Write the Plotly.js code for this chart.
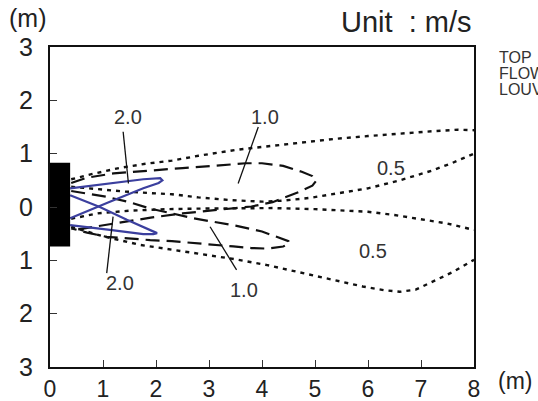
<!DOCTYPE html>
<html>
<head>
<meta charset="utf-8">
<script src="https://cdn.plot.ly/plotly-3.0.1.min.js"></script>
<style>html,body{margin:0;padding:0;background:#fff;}#chart{width:538px;height:401px;}</style>
</head>
<body>
<div id="chart"></div>
<script>
// ---- data (m) ----
const xTicks = [0,1,2,3,4,5,6,7,8];
const yTickVals = [-3,-2,-1,0,1,2,3];
const yTickText = ['3','2','1','0','1','2','3'];

// louver (source) outline
const srcX = [0,0.38,0.38,0,0];
const srcY = [0.83,0.83,-0.74,-0.74,0.83];

// 0.5 m/s contours (dotted)
const c05UpperTopX = [0.4,0.8,1.3,1.8,2.3,2.8,3.5,4.2,4.7,5.4,6.0,6.6,7.2,7.7,8.0];
const c05UpperTopY = [0.52,0.62,0.73,0.81,0.87,0.96,1.07,1.15,1.21,1.28,1.33,1.38,1.42,1.45,1.44];
const c05UpperBotX = [0.4,0.9,1.4,1.9,2.3,2.8,3.4,4.0,4.4,4.9,5.4,6.0,6.6,7.2,7.6,8.0];
const c05UpperBotY = [0.38,0.33,0.29,0.26,0.24,0.18,0.13,0.10,0.12,0.17,0.25,0.35,0.50,0.68,0.83,1.0];
const c05LowerTopX = [0.4,0.9,1.5,2.2,2.8,3.5,4.2,5.0,5.6,6.0,6.5,6.9,7.5,8.0];
const c05LowerTopY = [-0.22,-0.12,-0.07,-0.04,-0.03,-0.02,-0.02,-0.04,-0.07,-0.09,-0.15,-0.21,-0.31,-0.43];
const c05LowerBotX = [0.4,1.0,1.7,2.3,2.9,3.5,4.1,4.7,5.35,5.9,6.3,6.6,6.9,7.2,7.6,8.0];
const c05LowerBotY = [-0.37,-0.55,-0.71,-0.80,-0.90,-0.98,-1.09,-1.22,-1.37,-1.49,-1.56,-1.59,-1.55,-1.41,-1.22,-0.99];

// 1.0 m/s contours (dashed)
const c10UpperX = [0.4,0.7,1.2,1.8,2.5,3.2,3.7,4.0,4.4,4.75,4.95,5.03,4.95,4.72,4.45,4.2,3.8,3.4,3.0,2.5,1.9,1.4,1.0,0.6,0.4];
const c10UpperY = [0.45,0.55,0.63,0.68,0.73,0.78,0.82,0.82,0.77,0.66,0.58,0.50,0.40,0.29,0.18,0.09,0.01,-0.03,-0.06,-0.12,-0.20,-0.28,-0.34,-0.41,-0.44];
const c10LowerX = [0.4,1.07,1.5,1.89,2.3,2.7,3.1,3.5,4.0,4.35,4.5,4.52,4.4,4.1,3.8,3.46,2.83,2.3,1.89,1.5,1.07,0.7,0.4];
const c10LowerY = [0.30,0.19,0.09,-0.03,-0.12,-0.21,-0.28,-0.35,-0.46,-0.58,-0.64,-0.68,-0.74,-0.78,-0.77,-0.74,-0.68,-0.64,-0.62,-0.59,-0.56,-0.48,-0.40];

// 2.0 m/s contours (blue solid)
const c20UpperX = [0.38,1.13,1.76,2.08,2.12,2.05,1.76,1.13,0.38];
const c20UpperY = [0.35,0.44,0.52,0.54,0.50,0.45,0.35,0.10,-0.21];
const c20LowerX = [0.38,0.94,1.45,1.95,2.02,1.95,1.76,1.13,0.38];
const c20LowerY = [0.22,0.00,-0.24,-0.46,-0.49,-0.51,-0.51,-0.43,-0.34];

// contour labels and leader lines
const labelText = ['2.0','1.0','2.0','1.0','0.5','0.5'];
const labelX = [1.47,4.06,1.32,3.66,6.43,6.09];
const labelY = [1.69,1.69,-1.43,-1.55,0.74,-0.82];
const leaderX = [[1.38,1.48],[3.93,3.55],[1.07,1.19],[3.52,3.02]];
const leaderY = [[1.41,0.44],[1.50,0.44],[-1.24,-0.18],[-1.18,-0.37]];

const dotStyle = {color:'#111', width:2.4, dash:'4px,5px'};
const dashStyle = {color:'#111', width:2.2, dash:'14px,7px'};
const blueStyle = {color:'#3b3f9e', width:2.2};

const traces = [];
function line(x,y,style){traces.push({type:'scatter',mode:'lines',x:x,y:y,line:style,hoverinfo:'skip',showlegend:false});}
line(c05UpperTopX,c05UpperTopY,dotStyle);
line(c05UpperBotX,c05UpperBotY,dotStyle);
line(c05LowerTopX,c05LowerTopY,dotStyle);
line(c05LowerBotX,c05LowerBotY,dotStyle);
line(c10UpperX,c10UpperY,dashStyle);
line(c10LowerX,c10LowerY,dashStyle);
line(c20UpperX,c20UpperY,blueStyle);
line(c20LowerX,c20LowerY,blueStyle);
for(let i=0;i<leaderX.length;i++) line(leaderX[i],leaderY[i],{color:'#111',width:1.3});
traces.push({type:'scatter',mode:'lines',x:srcX,y:srcY,fill:'toself',fillcolor:'#000',line:{color:'#000',width:0},hoverinfo:'skip',showlegend:false});

const font = 'Liberation Sans, Arial, sans-serif';
const annotations = labelText.map((t,i)=>({x:labelX[i],y:labelY[i],xref:'x',yref:'y',text:t,showarrow:false,font:{family:font,size:20,color:'#333'}}));
annotations.push({xref:'paper',yref:'paper',x:1.0,y:1.078,xanchor:'right',yanchor:'middle',text:'Unit  : m/s',showarrow:false,font:{family:font,size:29,color:'#222'}});
annotations.push({xref:'paper',yref:'paper',x:-0.054,y:1.09,xanchor:'center',yanchor:'middle',text:'(m)',showarrow:false,font:{family:font,size:25,color:'#222'}});
annotations.push({xref:'paper',yref:'paper',x:1.097,y:-0.043,xanchor:'center',yanchor:'middle',text:'(m)',showarrow:false,font:{family:font,size:23,color:'#222'}});
const sideText = ['TOP','FLOW','LOUVER'];
const sideY = [0.966,0.916,0.866];
sideText.forEach((t,i)=>annotations.push({xref:'paper',yref:'paper',x:1.054,y:sideY[i],xanchor:'left',yanchor:'middle',text:t,showarrow:false,font:{family:font,size:16,color:'#333'}}));

const layout = {
  width:538,height:401,
  margin:{l:50,r:64,t:47,b:34,pad:0},
  paper_bgcolor:'#fff',plot_bgcolor:'#fff',
  showlegend:false,
  xaxis:{range:[0,8],tickvals:xTicks,ticks:'inside',ticklen:7,tickwidth:1,tickcolor:'#333',
    showline:true,mirror:true,linecolor:'#111',linewidth:2,showgrid:false,zeroline:false,
    tickfont:{family:font,size:23,color:'#222'},ticklabelstandoff:0,fixedrange:true},
  yaxis:{range:[-3,3],tickvals:yTickVals,ticktext:yTickText,ticks:'inside',ticklen:7,tickwidth:1,tickcolor:'#333',
    showline:true,mirror:true,linecolor:'#111',linewidth:2,showgrid:false,zeroline:false,
    tickfont:{family:font,size:25,color:'#222'},ticklabelstandoff:10,fixedrange:true},
  annotations:annotations
};
Plotly.newPlot('chart',traces,layout,{displayModeBar:false,staticPlot:true});
</script>
</body>
</html>
